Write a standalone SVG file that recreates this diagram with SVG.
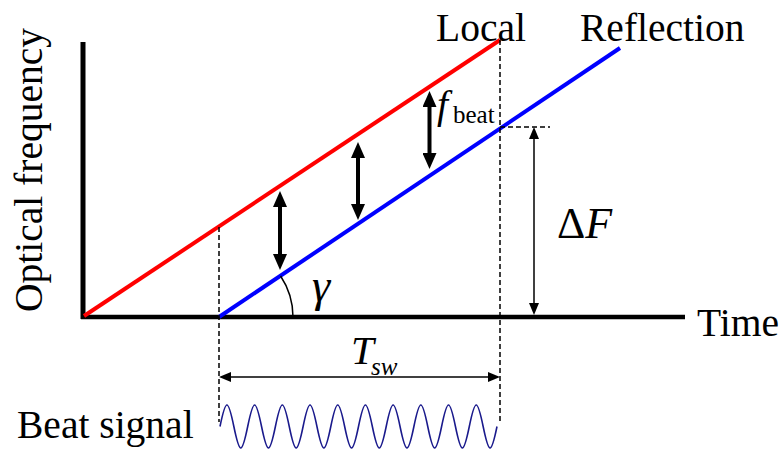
<svg xmlns="http://www.w3.org/2000/svg" width="784" height="453" viewBox="0 0 784 453" font-family="'Liberation Serif', Tinos, 'DejaVu Serif', serif">
<style>
text{font-family:'Liberation Serif',Tinos,'DejaVu Serif',serif;fill:#000}
.lbl{font-size:39.5px}
.it{font-style:italic}
.dash{stroke:#000;stroke-width:1.5;stroke-dasharray:5,3;fill:none}
.thick{stroke:#000;stroke-width:4;fill:none}
.thin{stroke:#000;stroke-width:1.5;fill:none}
.axis{stroke:#000;stroke-width:4.5;fill:none}
</style>
<defs>
<marker id="hb" viewBox="0 0 16 14" refX="0" refY="7" markerWidth="16" markerHeight="14" markerUnits="userSpaceOnUse" orient="auto-start-reverse"><path d="M0,0 L16,7 L0,14 z" fill="#000"/></marker>
<marker id="hs" viewBox="0 0 12 10" refX="0" refY="5" markerWidth="12" markerHeight="10" markerUnits="userSpaceOnUse" orient="auto-start-reverse"><path d="M0,0 L12,5 L0,10 z" fill="#000"/></marker>
</defs>
<g id="axes">
<line class="axis" x1="83" y1="42" x2="83" y2="319" style="stroke-width:5"/>
<line class="axis" x1="81" y1="317" x2="685" y2="317"/>
<text class="lbl" transform="translate(42,170) rotate(-90)" text-anchor="middle">Optical frequency</text>
<text class="lbl" x="697" y="336">Time</text>
</g>
<g id="local">
<line x1="84" y1="316" x2="500" y2="40" stroke="#ff0000" stroke-width="4"/>
<text class="lbl" x="436" y="41">Local</text>
</g>
<g id="reflection">
<line x1="219" y1="317" x2="620" y2="48" stroke="#0000ff" stroke-width="4"/>
<text class="lbl" x="580" y="41">Reflection</text>
</g>
<g id="connectors">
<line class="dash" x1="219" y1="227" x2="219" y2="422"/>
<line class="dash" x1="500" y1="40" x2="500" y2="422"/>
<line class="dash" x1="500" y1="127" x2="550" y2="127"/>
<line class="thick" x1="280" y1="207" x2="280" y2="254" marker-start="url(#hb)" marker-end="url(#hb)"/>
<line class="thick" x1="358" y1="158" x2="358" y2="204" marker-start="url(#hb)" marker-end="url(#hb)"/>
<line class="thick" x1="429.5" y1="107" x2="429.5" y2="153" marker-start="url(#hb)" marker-end="url(#hb)"/>
<line class="thin" x1="534" y1="139" x2="534" y2="303" marker-start="url(#hs)" marker-end="url(#hs)"/>
<line class="thin" x1="231" y1="377" x2="488" y2="377" marker-start="url(#hs)" marker-end="url(#hs)"/>
<path class="thin" d="M280.6,276 A74,74 0 0 1 293,317"/>
</g>
<g id="labels">
<text class="lbl it" x="437" y="118">f</text>
<text x="453" y="123" style="font-size:25px">beat</text>
<text class="it" x="312" y="301" style="font-size:46px">γ</text>
<text x="557" y="238" style="font-size:44px">Δ<tspan class="it">F</tspan></text>
<text class="it" x="351" y="364" style="font-size:41px">T</text>
<text class="it" x="371" y="375" style="font-size:25px">sw</text>
</g>
<g id="beat-signal">
<path d="M220,426.5 c5.88,-28.67 7.97,-28.67 13.85,0 s7.97,28.67 13.85,0 s7.97,-28.67 13.85,0 s7.97,28.67 13.85,0 s7.97,-28.67 13.85,0 s7.97,28.67 13.85,0 s7.97,-28.67 13.85,0 s7.97,28.67 13.85,0 s7.97,-28.67 13.85,0 s7.97,28.67 13.85,0 s7.97,-28.67 13.85,0 s7.97,28.67 13.85,0 s7.97,-28.67 13.85,0 s7.97,28.67 13.85,0 s7.97,-28.67 13.85,0 s7.97,28.67 13.85,0 s7.97,-28.67 13.85,0 s7.97,28.67 13.85,0 s7.97,-28.67 13.85,0 s7.97,28.67 13.85,0" fill="none" stroke="#1a1a8c" stroke-width="1.6"/>
<text class="lbl" x="17" y="438">Beat signal</text>
</g>
</svg>
